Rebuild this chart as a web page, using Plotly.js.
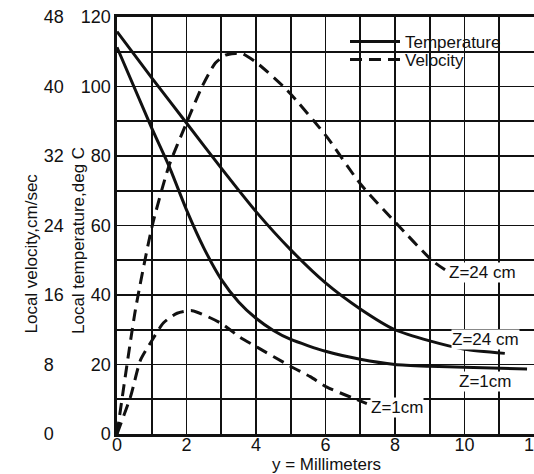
<!DOCTYPE html>
<html><head><meta charset="utf-8">
<script src="https://cdn.plot.ly/plotly-3.0.1.min.js"></script>
<style>html,body{margin:0;padding:0;background:#fff}#chart{width:534px;height:474px}</style>
</head><body><div id="chart"></div>
<script>
// ---- data ----
// distance from the wall, y (mm)
const xTempZ24 = [0, 1, 2, 3, 4, 5, 6, 7, 8, 9, 10, 11.16];
const tempZ24  = [115.8, 102.5, 89.5, 76.5, 64, 53, 43.5, 36, 30, 26.8, 24.4, 23.2];
const xTempZ1  = [0, 1, 1.5, 2, 2.5, 3, 3.5, 4, 4.5, 5, 6, 7, 8, 9, 10, 11.8];
const tempZ1   = [111.3, 88, 77, 64.5, 53.5, 44.5, 38, 33.3, 29.8, 27.2, 23.8, 21.5, 20, 19.5, 19.2, 18.7];
const xVelZ24  = [0, 0.53, 1.01, 1.49, 2.02, 2.45, 2.83, 3.12, 3.4, 3.6, 4.03, 4.89, 6.04, 7.0, 8.05, 9.06, 9.44];
const velZ24   = [0, 14.3, 23.9, 30.8, 36.0, 40.0, 42.7, 43.6, 43.8, 43.8, 42.7, 39.6, 34.2, 28.8, 24.2, 20.0, 18.9];
const xVelZ1   = [0, 0.39, 0.675, 1.01, 1.34, 1.73, 2.16, 2.97, 3.55, 4.03, 4.99, 5.56, 6.04, 7.19];
const velZ1    = [0, 4.3, 8.5, 10.8, 12.8, 13.9, 14.2, 12.8, 11.1, 10.0, 7.8, 6.6, 5.4, 3.5];

const xTickVals = [0, 2, 4, 6, 8, 10, 12];
const xTickText = ['0', '2', '4', '6', '8', '10', '12'];
const tempTickVals = [0, 20, 40, 60, 80, 100, 120];
const tempTickText = ['0', '20', '40', '60', '80', '100', '120'];
const velTickVals = [0, 8, 16, 24, 32, 40, 48];
const velTickText = ['0', '8', '16', '24', '32', '40', '48'];

const legendNames = ['Temperature', 'Velocity'];
const curveLabels = ['Z=24 cm', 'Z=24 cm', 'Z=1cm', 'Z=1cm'];
// ---- end data ----

const INK = '#111';
const W = 534, H = 474;
const solid = {color: INK, width: 3, shape: 'spline', smoothing: 0.6};
const dashed = {color: INK, width: 3, dash: '12px,7px', shape: 'spline', smoothing: 0.6};

const traces = [
  {x: xTempZ24, y: tempZ24, mode: 'lines', line: solid, name: legendNames[0], legend: 'legend', showlegend: true, hoverinfo: 'skip'},
  {x: xTempZ1, y: tempZ1, mode: 'lines', line: solid, name: legendNames[0], showlegend: false, hoverinfo: 'skip'},
  {x: xVelZ24, y: velZ24, yaxis: 'y2', mode: 'lines', line: dashed, name: legendNames[1], legend: 'legend2', showlegend: true, hoverinfo: 'skip'},
  {x: xVelZ1, y: velZ1, yaxis: 'y2', mode: 'lines', line: dashed, name: legendNames[1], showlegend: false, hoverinfo: 'skip'}
];

const gridStyle = {showgrid: true, gridcolor: INK, gridwidth: 1.8};
const tickFont = {family: '"Liberation Sans Narrow", "Liberation Sans", Arial, sans-serif', size: 18, color: INK};
const labFont = {family: '"Liberation Sans", Arial, sans-serif', size: 17, color: INK};

function px2paperX(p) { return p / W; }
function px2paperY(p) { return (434 - p) / 417; }

function legendAt(topPx) {
  return {x: px2paperX(345), y: px2paperY(topPx), xanchor: 'left', yanchor: 'top',
          bgcolor: 'rgba(0,0,0,0)', borderwidth: 0, font: labFont, itemwidth: 50, tracegroupgap: 0};
}

const layout = {
  width: W, height: H,
  margin: {l: 0, r: 0, t: 17, b: 40, pad: 0},
  paper_bgcolor: '#fff', plot_bgcolor: '#fff',
  font: labFont,
  showlegend: true,
  legend: legendAt(24),
  legend2: legendAt(42),
  xaxis: Object.assign({domain: [117 / W, 1], range: [0, 12], tickmode: 'array', tickvals: xTickVals, ticktext: xTickText,
          ticks: '', tickfont: tickFont, ticklabelstandoff: -7, ticklabeloverflow: 'allow',
          zeroline: false, showline: true, linecolor: INK, linewidth: 2.6, mirror: true,
          minor: {dtick: 1, showgrid: true, gridcolor: INK, gridwidth: 1.8}, fixedrange: true}, gridStyle),
  yaxis: Object.assign({range: [0, 120], tickmode: 'array', tickvals: tempTickVals, ticktext: tempTickText,
          ticks: '', tickfont: tickFont, ticklabeloverflow: 'allow', zeroline: false, showline: true, linecolor: INK, linewidth: 2.6, mirror: true,
          minor: {dtick: 10, showgrid: true, gridcolor: INK, gridwidth: 1.8}, fixedrange: true}, gridStyle),
  yaxis2: {overlaying: 'y', anchor: 'free', position: 0.08, side: 'right', range: [0, 48],
           tickmode: 'array', tickvals: velTickVals, ticktext: velTickText, ticks: '', tickfont: tickFont,
           ticklabeloverflow: 'allow', showgrid: false, zeroline: false, showline: false, fixedrange: true},
  shapes: [
    {type: 'rect', xref: 'paper', yref: 'paper', layer: 'between',
     x0: px2paperX(345), x1: px2paperX(521), y0: px2paperY(85.5), y1: 1,
     fillcolor: '#fff', line: {width: 0}}
  ],
  annotations: [
    {text: 'Local velocity,cm/sec', xref: 'paper', yref: 'paper', x: px2paperX(31), y: px2paperY(253.5),
     xanchor: 'center', yanchor: 'middle', textangle: -90, showarrow: false, font: labFont},
    {text: 'Local temperature,deg C', xref: 'paper', yref: 'paper', x: px2paperX(78), y: px2paperY(241),
     xanchor: 'center', yanchor: 'middle', textangle: -90, showarrow: false, font: labFont},
    {text: 'y = Millimeters', xref: 'paper', yref: 'paper', x: px2paperX(326), y: px2paperY(464.5),
     xanchor: 'center', yanchor: 'middle', showarrow: false, font: labFont},
    {text: curveLabels[0], xref: 'x', yref: 'y', x: 10.53, y: 46.6, xanchor: 'center', yanchor: 'middle',
     showarrow: false, font: labFont, bgcolor: '#fff', borderpad: 0},
    {text: curveLabels[1], xref: 'x', yref: 'y', x: 10.6, y: 27.2, xanchor: 'center', yanchor: 'middle',
     showarrow: false, font: labFont, bgcolor: '#fff', borderpad: 0},
    {text: curveLabels[2], xref: 'x', yref: 'y', x: 10.59, y: 15.2, xanchor: 'center', yanchor: 'middle',
     showarrow: false, font: labFont, bgcolor: '#fff', borderpad: 0},
    {text: curveLabels[3], xref: 'x', yref: 'y', x: 8.05, y: 7.6, xanchor: 'center', yanchor: 'middle',
     showarrow: false, font: labFont, bgcolor: '#fff', borderpad: 0}
  ]
};

Plotly.newPlot('chart', traces, layout, {staticPlot: true, displayModeBar: false});
</script>
</body></html>
